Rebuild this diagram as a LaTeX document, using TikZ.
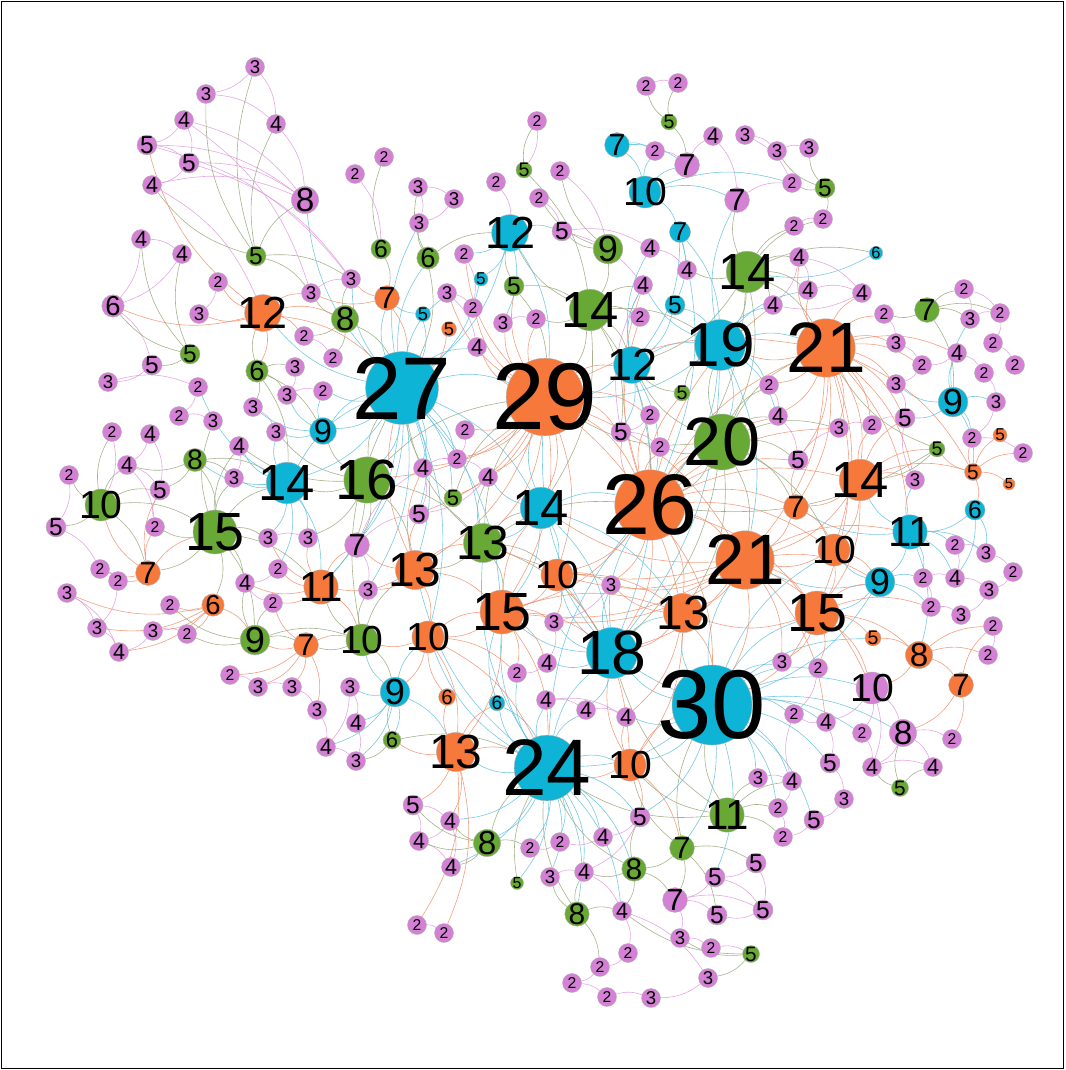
\documentclass[tikz,border=0pt]{standalone}
\usepackage{fontspec}
\setmainfont{Liberation Sans}
\pgfdeclarelayer{bg}
\pgfsetlayers{bg,main}
\definecolor{pk}{RGB}{212,128,212}
\definecolor{gr}{RGB}{104,168,52}
\definecolor{cy}{RGB}{14,180,214}
\definecolor{og}{RGB}{246,120,58}
\begin{document}
\begin{tikzpicture}[
    x=1pt, y=-1pt,
    vtx/.style={circle, inner sep=0pt, draw=black!30, line width=.4pt},
    num/.style={inner sep=0pt, text=black},
    edge/.style={line width=.6pt, draw opacity=.85},
    epk/.style={edge, draw={rgb,255:red,224;green,152;blue,220}},
    egr/.style={edge, draw={rgb,255:red,150;green,166;blue,120}},
    ecy/.style={edge, draw={rgb,255:red,96;green,192;blue,222}},
    eog/.style={edge, draw={rgb,255:red,240;green,142;blue,108}},
]
\useasboundingbox (0,0) rectangle (1065,1070);
\draw[line width=1.2pt] (1.5,1.5) rectangle (1063.5,1068.5);

% nodes: name / x / y / degree / colour / scale
\foreach \n/\x/\y/\lab/\col/\sc in {
    t1/255/67/3/pk/1, t2/206/94/3/pk/1, t3/184/120/4/pk/1, t4/276/124/4/pk/1,
    t5/147/145/5/pk/1, t6/189/163/5/pk/1, t7/152/185/4/pk/1, t8/305/200/8/pk/1,
    t9/355/174/2/pk/1, t10/141/239/4/pk/1, t11/182/254/4/pk/1, t12/256/256/5/gr/1,
    t13/113/306/6/pk/1, t14/218/282/2/pk/1, t15/199/314/3/pk/1, t16/263/313/12/og/1,
    t17/311/293/3/pk/1, t18/351/279/3/pk/1, t19/345/319/8/gr/1, t20/304/336/2/pk/1,
    t21/333/358/2/pk/1, t22/190/354/5/gr/1, t23/152/365/5/pk/1, t24/257/371/6/gr/1,
    t25/295/367/3/pk/1, t26/108/382/3/pk/1,
    m1/646/86/2/pk/1, m2/678/83/2/pk/1, m3/669/122/5/gr/.8, m4/537/121/2/pk/1,
    m5/617/145/7/cy/1, m6/655/151/2/pk/1, m7/687/165/7/pk/1, m8/645/192/10/cy/1,
    m9/384/157/2/pk/1, m10/524/170/5/gr/.8, m11/560/171/2/pk/1, m12/418/187/3/pk/1,
    m13/454/199/3/pk/1, m14/496/182/2/pk/1, m15/539/198/2/pk/1, m16/419/223/3/pk/1,
    m17/510/233/12/cy/1, m18/562/231/5/pk/1, m19/608/249/9/gr/1, m20/650/248/4/pk/1,
    m21/680/232/7/cy/.85, m22/381/249/6/gr/.9, m23/428/258/6/gr/1, m24/464/254/2/pk/1,
    m25/687/270/4/pk/1, m26/481/279/5/cy/.7, m27/514/286/5/gr/1, m28/643/285/4/pk/1,
    m29/387/298/7/og/1, m30/447/293/3/pk/1, m31/473/308/2/pk/1, m32/590/310/14/gr/1,
    m33/675/305/5/cy/1, m34/423/314/5/cy/.75, m35/449/329/5/og/.75, m36/503/323/3/pk/1,
    m37/536/319/2/pk/1, m38/640/317/2/pk/1, m39/477/347/4/pk/1,
    c1/713/136/4/pk/1, c2/745/135/3/pk/1, c3/777/151/3/pk/1, c4/809/148/3/pk/1,
    c5/737/200/7/pk/1, c6/792/183/2/pk/1, c7/825/188/5/gr/1, c8/794/226/2/pk/1,
    c9/823/219/2/pk/1, c10/747/272/14/gr/1, c11/799/257/4/pk/1, c12/876/253/6/cy/.6,
    c13/808/290/4/pk/1, c14/862/293/4/pk/1, c15/773/305/4/pk/1, c16/720/345/19/cy/.95,
    c17/826/348/21/og/1, c18/884/314/2/pk/1, c19/927/310/7/gr/1, c20/964/289/2/pk/1,
    c21/970/319/3/pk/1, c22/1000/313/2/pk/1, c23/896/343/3/pk/1, c24/957/353/4/pk/1,
    c25/993/343/2/pk/1, c26/922/365/2/pk/1, c27/1015/365/2/pk/1, c28/984/373/2/pk/1,
    f1/769/385/2/pk/1, f2/896/384/3/pk/1, f3/953/402/9/cy/1, f4/996/402/3/pk/1,
    f5/778/416/4/pk/1, f6/839/428/3/pk/1, f7/872/425/2/pk/1, f8/905/418/5/pk/1,
    f9/972/438/2/pk/1, f10/1000/435/5/og/.7, f11/1023/453/2/pk/1, f12/722/442/20/gr/1,
    f13/937/449/5/gr/.8, f14/798/460/5/pk/1, f15/860/480/14/og/1, f16/915/480/3/pk/1,
    f17/973/472/5/og/.85, f18/1009/484/5/og/.6, f19/796/507/7/og/1, f20/975/510/6/cy/.9,
    f21/910/532/11/cy/1, f22/834/550/10/og/1, f23/745/560/21/og/1, f24/955/545/2/pk/1,
    f25/986/553/3/pk/1, f26/1013/572/2/pk/1, f27/880/582/9/cy/1, f28/923/578/2/pk/1,
    f29/955/578/4/pk/1, f30/989/590/3/pk/1, f31/931/607/2/pk/1, f32/961/615/3/pk/1,
    f33/817/613/15/og/1, f34/993/626/2/pk/1, f35/873/638/5/og/.8, f36/919/655/8/og/1,
    f37/988/655/2/pk/1, f38/782/662/3/pk/1, f39/818/668/2/pk/1, f40/961/685/7/og/1,
    k1/872/688/10/pk/1, k2/903/733/8/pk/1, k3/826/722/4/pk/1, k4/862/733/2/pk/1,
    k5/952/739/2/pk/1, k6/872/767/4/pk/1, k7/933/767/4/pk/1, k8/900/788/5/gr/.85,
    k9/830/763/5/pk/1, k10/844/799/3/pk/1, k11/814/820/5/pk/1, k12/794/714/2/pk/1,
    k13/712/705/30/cy/1, k14/758/778/3/pk/1, k15/792/781/4/pk/1, k16/727/815/11/gr/1,
    k17/778/808/2/pk/1, k18/783/837/2/pk/1,
    b1/546/700/4/pk/1, b2/586/710/4/pk/1, b3/626/717/4/pk/1, b4/547/768/24/cy/1,
    b5/630/765/10/og/1, b6/640/817/5/pk/1, b7/603/837/4/pk/1, b8/560/842/2/pk/1,
    b9/530/848/2/pk/1, b10/682/848/7/gr/1, b11/756/863/5/pk/1, b12/634/869/8/gr/.9,
    b13/715/877/5/pk/1, b14/550/877/3/pk/1, b15/584/872/4/pk/1, b16/517/883/5/gr/.65,
    b17/675/900/7/pk/1, b18/763/910/5/pk/1, b19/717/915/5/pk/1, b20/577/914/8/gr/.9,
    b21/622/911/4/pk/1, b22/680/938/3/pk/1, b23/711/948/2/pk/1, b24/751/954/5/gr/.85,
    b25/628/953/2/pk/1, b26/600/967/2/pk/1, b27/708/978/3/pk/1, b28/572/983/2/pk/1,
    b29/607/997/2/pk/1, b30/651/998/3/pk/1,
    g1/230/675/2/pk/1, g2/258/687/3/pk/1, g3/292/687/3/pk/1, g4/350/687/3/pk/1,
    g5/395/692/9/cy/1, g6/447/697/6/og/.75, g7/497/703/6/cy/.7, g8/317/710/3/pk/1,
    g9/356/723/4/pk/1, g10/392/740/6/gr/.8, g11/326/747/4/pk/1, g12/356/761/3/pk/1,
    g13/456/752/13/og/1, g14/413/805/5/pk/1, g15/450/821/4/pk/1, g16/487/843/8/gr/1,
    g17/419/841/4/pk/1, g18/451/867/4/pk/1, g19/417/925/2/pk/1, g20/444/933/2/pk/1,
    l1/198/387/2/pk/1, l2/287/395/3/pk/1, l3/323/391/2/pk/1, l4/179/416/2/pk/1,
    l5/213/421/3/pk/1, l6/253/407/3/pk/1, l7/276/432/3/pk/1, l8/323/431/9/cy/.9,
    l9/112/432/2/pk/1, l10/150/434/4/pk/1, l11/239/446/4/pk/1, l12/195/460/8/gr/.85,
    l13/127/465/4/pk/1, l14/69/475/2/pk/1, l15/234/478/3/pk/1, l16/287/483/14/cy/1,
    l17/367/480/16/gr/1, l18/101/505/10/gr/1, l19/160/490/5/pk/1, l20/56/527/5/pk/1,
    l21/155/527/2/pk/1, l22/215/532/15/gr/1, l23/268/538/3/pk/1, l24/308/538/3/pk/1,
    l25/357/545/7/pk/1, l26/100/569/2/pk/1, l27/148/573/7/og/1, l28/118/581/2/pk/1,
    l29/278/569/2/pk/1, l30/245/583/4/pk/1, l31/321/587/11/og/1, l32/67/593/3/pk/1,
    l33/170/605/2/pk/1, l34/213/605/6/og/1, l35/273/603/2/pk/1, l36/368/590/3/pk/1,
    l37/97/628/3/pk/1, l38/153/631/3/pk/1, l39/187/634/2/pk/1, l40/119/652/4/pk/1,
    l41/255/640/9/gr/1, l42/306/645/7/og/1, l43/362/640/10/gr/1,
    e1/402/388/27/cy/1, e2/545/397/29/og/1, e3/632/365/12/cy/1, e4/682/393/5/gr/.8,
    e5/650/415/2/pk/1, e6/621/432/5/pk/1, e7/660/447/2/pk/1, e8/465/430/2/pk/1,
    e9/423/468/4/pk/1, e10/457/459/2/pk/1, e11/488/477/4/pk/1, e12/453/498/5/gr/.9,
    e13/419/514/5/pk/1, e14/541/508/14/cy/1, e15/650/505/26/og/1, e16/483/543/13/gr/1,
    e17/415/570/13/og/1, e18/557/575/10/og/1, e19/611/585/3/pk/1, e20/502/612/15/og/1,
    e21/683/613/13/og/1, e22/554/622/3/pk/1, e23/428/637/10/og/1, e24/612/653/18/cy/1,
    e25/547/663/4/pk/1, e26/517/673/2/pk/1}
{
    \pgfmathsetmacro\rr{max(9.5,4+1.2*\lab)*\sc}
    \pgfmathsetmacro\fs{(9.8+2.93*\lab)*\sc}
    \node[vtx, fill=\col, minimum size=2*\rr] (\n) at (\x,\y) {};
    \node[num, font=\fontsize{\fs}{\fs}\selectfont] (\n-t) at (\n) {\lab};
}

\begin{pgfonlayer}{bg}
% pink links
\foreach \a/\b in {t1/t2, t1/t4, t2/t4, t3/t5, t3/t6, t3/t8, t5/t6, t5/t8, t6/t7,
    t6/t8, t7/t8, t5/t18, t7/t16, t6/t18, t3/t17, t4/t8, t10/t11, t10/t13, t11/t13,
    t13/t23, t14/t15, t17/t18, t20/t21, t9/m22, t23/t26, t26/l1, t25/l2,
    m1/m2, m6/m7, m12/m13, m12/m16, m13/m16, m14/m17, m15/m18, m11/m19, m4/m10,
    m18/m20, m20/m25, m24/m31, m30/m31, m30/m39, m36/m37, m18/m28, m7/c1, c1/c5,
    c2/c3, c2/c6, c3/c4, c5/c6, c8/c9, c11/c13, c11/c14, c13/c14, c14/c15, c11/c15,
    c20/c21, c21/c22, c20/c22, c23/c26, c24/c26, c24/c28, c25/c27, c22/c25, c18/c23,
    c26/f2, c28/f4, f2/f8, f4/f9, f9/f11, f7/f8, f6/f7, f5/f14, f1/f5, f16/f8,
    f24/f25, f25/f26, f24/f29, f28/f29, f29/f30, f28/f31, f31/f32, f30/f32, f34/f37,
    f26/f30, f39/k12, k1/k4, k1/k3, k2/k6, k2/k7, k2/k5, k3/k9, k6/k7, k9/k10,
    k10/k11, k4/k6, k14/k15, k15/k17, k17/k18, k11/k18, k15/k12, k3/k12,
    b1/b2, b2/b3, b1/b3, b6/b7, b7/b8, b8/b9, b14/b15, b15/b21, b13/b17, b13/b18,
    b17/b19, b18/b19, b11/b18, b11/b13, b17/b22, b22/b23, b23/b24, b21/b25, b25/b26,
    b26/b28, b28/b29, b29/b30, b27/b30, b21/b27, b6/b15, b17/b18,
    g1/g2, g2/g3, g3/g8, g4/g9, g4/g11, g9/g12, g11/g12, g8/g11, g14/g15, g14/g17,
    g15/g17, g17/g18, g15/g18, g19/g20,
    l1/l4, l4/l5, l2/l3, l6/l7, l9/l18, l10/l13, l10/l19, l13/l19, l14/l20, l20/l26,
    l21/l19, l26/l28, l28/l37, l32/l37, l37/l40, l32/l40, l38/l39, l38/l40, l29/l30,
    l23/l24, l35/l30, l25/l36, l13/l21, l11/l15,
    e5/e6, e6/e7, e8/e10, e9/e10, e9/e13, e10/e11, e11/e13, e19/e22, e22/e25, e25/e26,
    k1/k2, k1/k6, f14/f6, e6/m28, l25/e13, l25/e9}
    \draw[epk] (\a) to[bend left=18] (\b);
% green links
\foreach \a/\b in {t12/t1, t12/t2, t12/t4, t12/t8, t12/t18, t12/t17, t12/t7,
    t22/t10, t22/t11, t22/t13, t22/t23, t19/t17, t19/t18, t19/t20, t19/t21, t19/e1,
    t24/t25, t24/t16, t24/l6, t24/l2, t24/l8, t24/l16,
    m3/m1, m3/m2, m3/m7, m10/m4, m10/m32, m19/m18, m19/m32, m19/m11, m19/m15,
    m22/m9, m22/m29, m23/m16, m23/m12, m23/m17, m23/e1, m27/m17, m27/m32, m27/e2,
    m32/m17, m32/m37, m32/m38, m32/e15, m32/e3, m32/e2, m32/c16, m32/m28,
    c7/c4, c7/c6, c7/c9, c7/c3, c10/c5, c10/c8, c10/c9, c10/c11, c10/c12, c10/c13,
    c10/c15, c10/c16, c10/c17, c10/e3, c10/m25, c10/e15, c19/c18, c19/c20, c19/c21,
    c19/c22, c19/f3,
    f12/c16, f12/e3, f12/e15, f12/f5, f12/f1, f12/f14, f12/f19, f12/f23, f12/e2,
    f12/e7, f12/c17, f12/e21, f13/f15, f13/c17, f13/e15,
    k8/k6, k8/k7, k8/k2, k16/k13, k16/k14, k16/k17, k16/k18, k16/b5, k16/b4, k16/k15,
    b10/b5, b10/b12, b10/b17, b10/b19, b10/b11, b10/k13, b12/b6, b12/b17, b12/b21,
    b12/b4, b16/b4, b20/b15, b20/b14, b20/b21, b20/b26, b20/b4, b24/b21, b24/b22,
    b24/b27,
    g10/g5, g10/g12, g10/b4, g16/g14, g16/g15, g16/g17, g16/g18, g16/b9, g16/b4,
    l12/l19, l12/l13, l12/l22, l12/l16, l12/l15, l18/l14, l18/l20, l18/l9, l18/l13,
    l18/l19, l18/l27, l18/l22, l22/l21, l22/l15, l22/l23, l22/l16, l22/l27, l22/l30,
    l22/l31, l22/l34, l22/l41, l22/l5, l22/l11, l41/l30, l41/l33, l41/l39, l41/l42,
    l41/l43, l41/l35, l43/l31, l43/l36, l43/g5, l43/e1, l43/e17, l43/l42, l17/e1,
    l17/l16, l17/l8, l17/l25, l17/l31, l17/l24, l17/e17, l17/e2, l17/e16, l17/l11,
    l17/l7,
    e4/e3, e4/c16, e12/e2, e12/e1, e16/e2, e16/e14, e16/e17, e16/e20, e16/e1,
    e16/e15, e16/e18, e16/e11, f12/f6, f12/e24, f12/f22, c10/f12, e16/e24, k16/e24,
    b12/b15, m32/e14, m32/e6}
    \draw[egr] (\a) to[bend left=18] (\b);
% cyan links
\foreach \a/\b in {m5/m6, m5/m7, m5/m8, m8/m6, m8/m7, m8/c5, m8/c6, m8/m21,
    m17/m24, m17/m18, m17/m36, m17/e1, m17/e2, m17/m26, m21/m33, m21/c16, m21/e3,
    m21/e15, m26/e1, m33/c16, m33/e3, m34/e1, m34/m29,
    e1/t8, e1/t16, e1/t18, e1/m29, e1/m30, e1/m39, e1/l3, e1/l8, e1/l16, e1/l17,
    e1/e17, e1/e9, e1/e14, e1/e20, e1/e2, e1/l25, e1/e13, e1/l31, e1/e23, e1/l36,
    e3/e2, e3/e6, e3/c16, e3/e15, e3/m28, e3/m20, e3/e24,
    c16/c15, c16/c13, c16/c5, c16/e2, c16/e15, c16/f23, c16/c17, c16/f5, c16/m28,
    c16/e24, c12/c10, f3/c24, f3/f4, f3/f2, f3/f8, f3/f9, f3/f17, f3/c21,
    f20/f21, f20/f25, f20/f29, f21/f16, f21/f24, f21/f25, f21/f28, f21/f29, f21/f15,
    f21/f27, f21/f19, f21/f36, f27/f23, f27/f33, f27/k13, f27/f28, f27/f31, f27/f22,
    k13/k3, k13/k4, k13/k12, k13/k14, k13/k1, k13/k9, k13/b5, k13/b3, k13/e24,
    k13/e21, k13/f23, k13/f33, k13/b4, k13/k11, k13/k2, k13/b13,
    b4/b1, b4/b2, b4/b5, b4/b7, b4/b8, b4/b9, b4/b14, b4/b15, b4/b6, b4/g13, b4/g7,
    b4/e20, b4/e24, b4/e23, b4/e15, b4/b21,
    e24/e22, e24/e25, e24/e20, e24/e18, e24/e15, e24/e2, e24/b2, e24/e19, e24/e21,
    e14/e2, e14/e15, e14/e18, e14/e11, e14/e20,
    l16/l11, l16/l15, l16/l7, l16/l23, l16/l24, l16/l31, l16/l29, l16/e1, l16/l12,
    l16/l1, l8/l2, l8/l3, l8/l6, l8/l7, l8/e1,
    g5/g4, g5/g9, g5/g11, g5/g12, g5/g10, g5/e23, g5/g13, g5/l43, g7/b4, g7/e20,
    k13/f38, k13/f39, k13/k17, k13/k15, k13/f22, k13/e18, k13/b6, k13/b10, k13/f35,
    b4/g15, b4/g16, b4/g18, b4/b16, b4/b12, b4/b20, b4/e16, b4/e17, b4/e26,
    e1/m16, e1/m23, e1/e12, e1/e16, e1/e10, e14/e16, e14/e24, e14/e21, c16/f1, c16/f12}
    \draw[ecy] (\a) to[bend left=18] (\b);
% orange links
\foreach \a/\b in {t16/t13, t16/t14, t16/t15, t16/t17, t16/t19, t16/t20, t16/t5,
    t16/t24, t16/e1, m29/t18, m29/t17, m29/e1, m35/e1,
    e2/m36, e2/m37, e2/m31, e2/e8, e2/e11, e2/e14, e2/e15, e2/e18, e2/e20, e2/e21,
    e2/e17, e2/e6, e2/e5, e2/c17, e2/f23, e2/e3, e2/m39, e2/e10,
    e15/e5, e15/e6, e15/e7, e15/e19, e15/e18, e15/e21, e15/f23, e15/f19, e15/f15,
    e15/f22, e15/f12, e15/c17, e15/e20, e15/e24, e15/f33, e15/f14, e15/k13,
    c17/f1, c17/f5, c17/f6, c17/f14, c17/f15, c17/f23, c17/c23, c17/c18, c17/c14,
    c17/f19, c17/f22, c17/f33, c17/c16,
    f15/f13, f15/f16, f15/f17, f15/f19, f15/f22, f15/f23, f15/f33, f15/f7, f15/f8,
    f17/f10, f17/f18, f17/f11, f17/f9, f17/f13, f17/f20, f19/f23, f19/f22, f19/f14,
    f22/f23, f22/f33, f22/f27, f23/e21, f23/e18, f23/f33, f23/e24, f23/e20, f23/k13,
    f23/e19, f23/f38, f33/f35, f33/f36, f33/f38, f33/f39, f33/k1, f33/e21, f33/k13,
    f33/f27, f33/f31, f35/f36, f36/f40, f36/f37, f36/f34, f36/k1, f40/k2, f40/k5,
    f40/f34,
    e17/e13, e17/e9, e17/l25, e17/l36, e17/e20, e17/e23, e17/e1, e17/l31,
    e18/e22, e18/e19, e18/e20, e18/e21, e18/b5, e20/e22, e20/e25, e20/e26, e20/e23,
    e20/b4, e20/e21, e20/g13, e21/e19, e21/e24, e21/b5, e21/k13, e21/b3,
    e23/g5, e23/g13, e23/l43, e23/e26, e23/b4,
    g13/g6, g13/g7, g13/g10, g13/g14, g13/g15, g13/b4, g13/g19, g13/g20, g6/e23,
    b5/b3, b5/b6, b5/b4, b5/k13, b5/b10, b5/e24,
    l27/l18, l27/l19, l27/l21, l27/l22, l27/l26, l27/l28,
    l34/l33, l34/l37, l34/l38, l34/l39, l34/l32, l34/l40, l34/l41,
    l31/l23, l31/l24, l31/l25, l31/l29, l31/l35, l31/l43, l31/l30,
    l42/l41, l42/l43, l42/g1, l42/g2, l42/g3, l42/g8, l42/l35,
    e15/m38, e15/m28, e15/e4, e15/f5, e15/f6, e15/c15, e2/m27, e2/m30, e2/m24,
    e2/l17, e2/e12, e2/e16, e2/e13, e2/e9, c17/c13, c17/c11, c17/c24, c17/c26,
    c17/f2, c17/f7, c17/f8, c17/f16, c17/f17, c17/f21, f23/e14, f23/e16, f23/e22,
    f23/f21, f23/f27, f23/k1, f23/k3, e20/e14, e20/e24, e17/e16, e23/e20}
    \draw[eog] (\a) to[bend left=18] (\b);
\end{pgfonlayer}
\end{tikzpicture}
\end{document}
